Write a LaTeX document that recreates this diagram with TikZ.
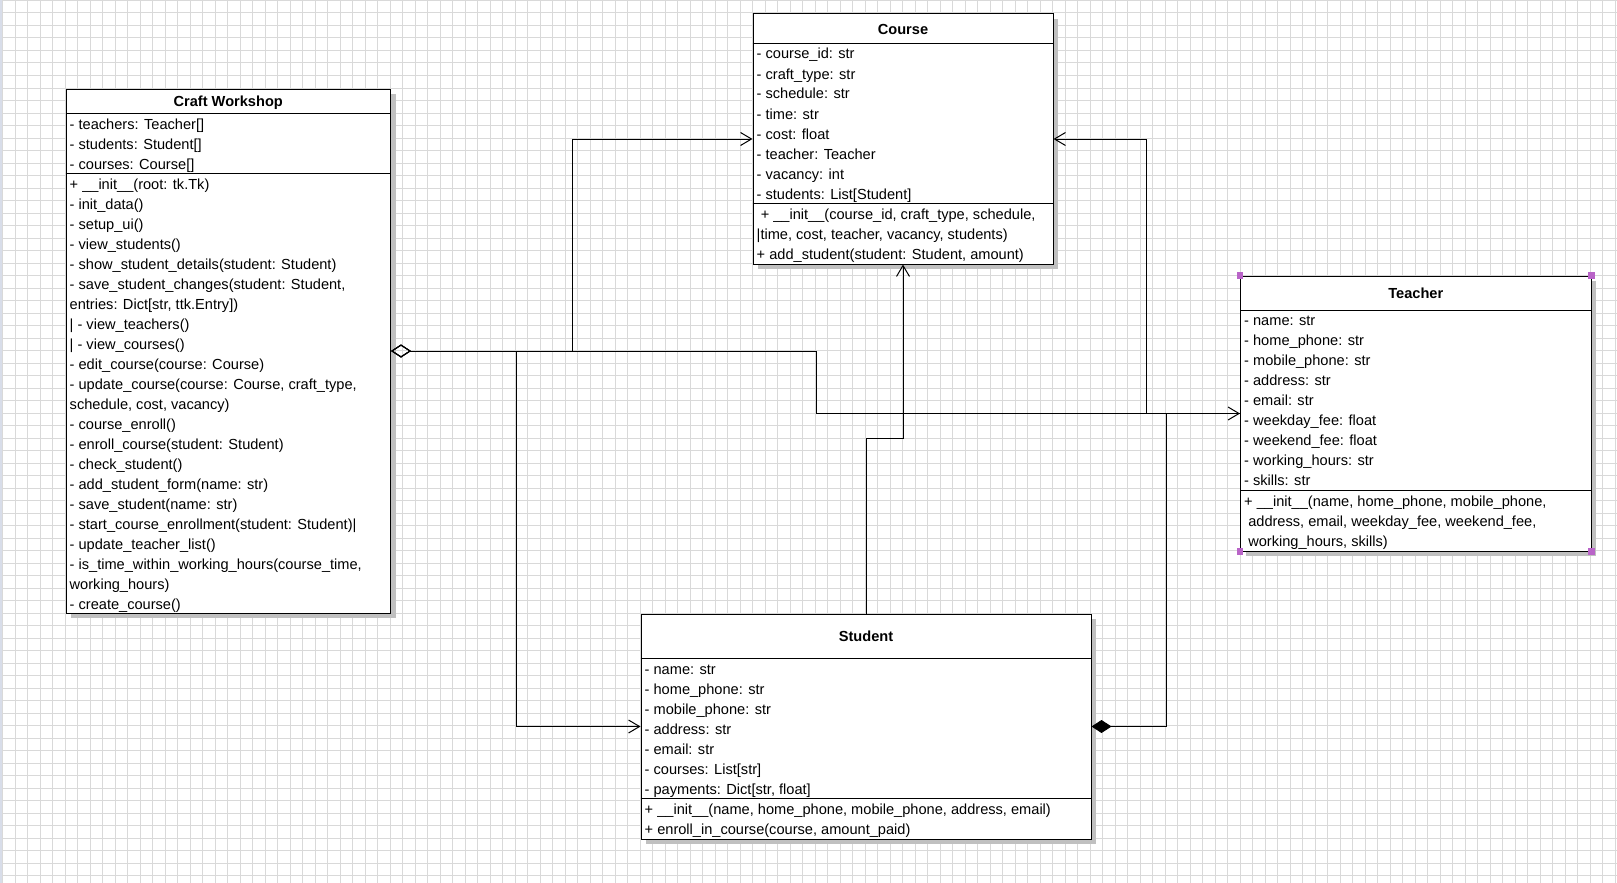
\documentclass[tikz,border=0pt]{standalone}
\usepackage{fontspec}
\setmainfont{Liberation Sans}
\usetikzlibrary{arrows.meta,shadows}

\definecolor{gridgray}{HTML}{D9D9D9}
\definecolor{shadowgray}{HTML}{C0C0C0}
\definecolor{stripblue}{HTML}{D8DDE9}
\definecolor{handle}{RGB}{185,100,200}
\newcommand\umlfont{\fontsize{14.6pt}{20pt}\selectfont}

\begin{document}
\begin{tikzpicture}[x=1pt,y=-1pt,
  classbox/.style={draw,fill=white,line width=1pt,inner sep=0pt,anchor=north west,
    drop shadow={opacity=1,fill=shadowgray,shadow xshift=5pt,shadow yshift=-5pt}},
  title/.style={anchor=base,inner sep=0pt,font=\bfseries\umlfont},
  member/.style={anchor=base west,inner sep=0pt,font=\umlfont},
  link/.style={draw,line width=1pt,-{Straight Barb[length=11pt,width=13pt]}},
  aggr/.style={draw,line width=1pt,{Diamond[open,length=20pt,width=13pt]}-{Straight Barb[length=11pt,width=13pt]}},
  comp/.style={draw,line width=1pt,{Diamond[length=20pt,width=13pt]}-}]

  % background grid
  \useasboundingbox (0,0) rectangle (1617,883);
  \fill[white] (0,0) rectangle (1617,883);
  \foreach \gx in {2.5,15,...,1617} \draw[gridgray,line width=1pt] (\gx,0) -- (\gx,883);
  \foreach \gy in {0.5,13,...,883} \draw[gridgray,line width=1pt] (0,\gy) -- (1617,\gy);
  \fill[stripblue] (0,0) rectangle (2,883);

  % classes
  \node[classbox,minimum width=324.5pt,minimum height=524pt] (workshop) at (65.5,88.5) {};
  \node[classbox,minimum width=300pt,minimum height=250pt] (course) at (752.5,13.5) {};
  \node[classbox,minimum width=350.5pt,minimum height=275pt] (teacher) at (1240,275.5) {};
  \node[classbox,minimum width=450pt,minimum height=225pt] (student) at (640.5,613.5) {};

  \node[title] at ([yshift=-18.2pt]workshop.north) {Craft Workshop};
  \node[title] at ([yshift=-20.7pt]course.north) {Course};
  \node[title] at ([yshift=-23pt]teacher.north) {Teacher};
  \node[title] at ([yshift=-28.2pt]student.north) {Student};

  \draw[line width=1pt] (65.5,113.5) -- (390,113.5) (65.5,173.5) -- (390,173.5);
  \draw[line width=1pt] (752.5,43.5) -- (1052.5,43.5) (752.5,203.5) -- (1052.5,203.5);
  \draw[line width=1pt] (1240,310) -- (1590.5,310) (1240,490.5) -- (1590.5,490.5);
  \draw[line width=1pt] (640.5,658.5) -- (1090.5,658.5) (640.5,798.5) -- (1090.5,798.5);

  % Craft Workshop members
  \foreach \m [count=\i] in {{- teachers: Teacher[]},{- students: Student[]},{- courses: Course[]}}
    \path (65.5,88.5) ++(4,{25+15.5+20*(\i-1)}) node[member] {\m};
  \foreach \m [count=\i] in {{+ \_\_init\_\_(root: tk.Tk)},{- init\_data()},{- setup\_ui()},
      {- view\_students()},{- show\_student\_details(student: Student)},
      {- save\_student\_changes(student: Student,},{entries: Dict[str, ttk.Entry])},
      {| - view\_teachers()},{| - view\_courses()},{- edit\_course(course: Course)},
      {- update\_course(course: Course, craft\_type,},{schedule, cost, vacancy)},
      {- course\_enroll()},{- enroll\_course(student: Student)},{- check\_student()},
      {- add\_student\_form(name: str)},{- save\_student(name: str)},
      {- start\_course\_enrollment(student: Student)|},{- update\_teacher\_list()},
      {- is\_time\_within\_working\_hours(course\_time,},{working\_hours)},{- create\_course()}}
    \path (65.5,88.5) ++(4,{85+15.5+20*(\i-1)}) node[member] {\m};

  % Course members
  \foreach \m [count=\i] in {{- course\_id: str},{- craft\_type: str},{- schedule: str},
      {- time: str},{- cost: float},{- teacher: Teacher},{- vacancy: int},{- students: List[Student]}}
    \path (752.5,13.5) ++(4,{30+15.5+20*(\i-1)}) node[member] {\m};
  \foreach \m [count=\i] in {{\ + \_\_init\_\_(course\_id, craft\_type, schedule,},
      {|time, cost, teacher, vacancy, students)},{+ add\_student(student: Student, amount)}}
    \path (752.5,13.5) ++(4,{190+15.5+20*(\i-1)}) node[member] {\m};

  % Teacher members
  \foreach \m [count=\i] in {{- name: str},{- home\_phone: str},{- mobile\_phone: str},
      {- address: str},{- email: str},{- weekday\_fee: float},{- weekend\_fee: float},
      {- working\_hours: str},{- skills: str}}
    \path (1240,275.5) ++(4,{34.5+15.5+20*(\i-1)}) node[member] {\m};
  \foreach \m [count=\i] in {{+ \_\_init\_\_(name, home\_phone, mobile\_phone,},
      {\ address, email, weekday\_fee, weekend\_fee,},{\ working\_hours, skills)}}
    \path (1240,275.5) ++(4,{215+15.5+20*(\i-1)}) node[member] {\m};

  % Student members
  \foreach \m [count=\i] in {{- name: str},{- home\_phone: str},{- mobile\_phone: str},
      {- address: str},{- email: str},{- courses: List[str]},{- payments: Dict[str, float]}}
    \path (640.5,613.5) ++(4,{45+15.5+20*(\i-1)}) node[member] {\m};
  \foreach \m [count=\i] in {{+ \_\_init\_\_(name, home\_phone, mobile\_phone, address, email)},
      {+ enroll\_in\_course(course, amount\_paid)}}
    \path (640.5,613.5) ++(4,{185+15.5+20*(\i-1)}) node[member] {\m};

  % selection handles
  \foreach \c in {north west,north east,south west,south east}
    \fill[handle] (teacher.\c) ++(-3.3,-3.3) rectangle ++(6.6,6.6);

  % associations
  \draw[aggr] (workshop.east) -- ++(181.5,0) |- (course.west);
  \draw[aggr] (workshop.east) -- ++(125.5,0) |- (student.west);
  \draw[aggr] (workshop.east) -- ++(425,0) |- (teacher.west);
  \draw[link] (student.north) -- ++(0,-175) -| (course.south);
  \draw[link] (teacher.west) -- ++(-93.5,0) |- (course.east);
  \draw[comp] (student.east) -- ++(75,0) |- (teacher.west);
\end{tikzpicture}
\end{document}
